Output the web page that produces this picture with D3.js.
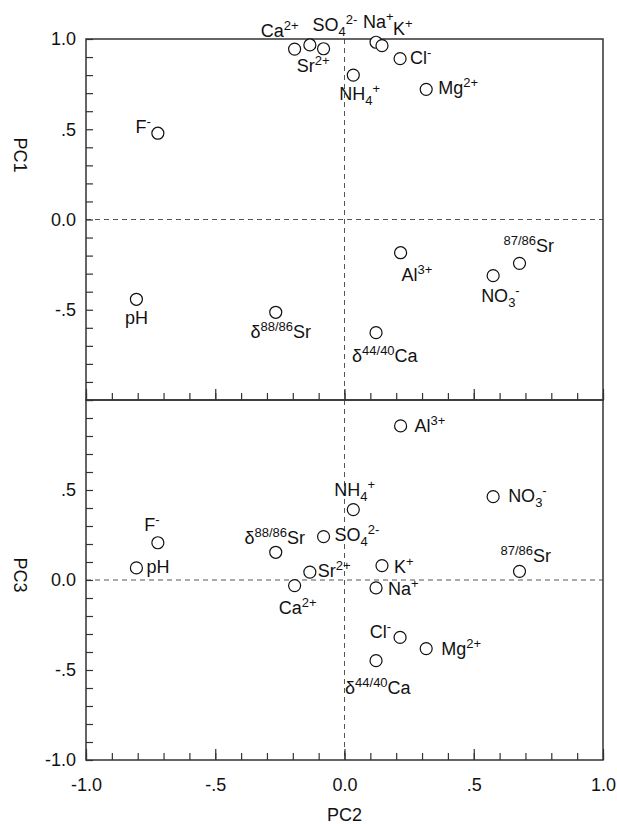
<!DOCTYPE html>
<html>
<head>
<meta charset="utf-8">
<script src="https://cdn.jsdelivr.net/npm/d3@7"></script>
<style>
  body { margin: 0; background: #fff; }
  svg { display: block; font-family: "Liberation Sans", Arial, sans-serif; }
</style>
</head>
<body>
<svg id="chart" width="617" height="824"></svg>
<script>
// variable names (^{..} = superscript, _{..} = subscript)
const names = ["pH", "F^{-}", "Cl^{-}", "NO_{3}^{-}", "SO_{4}^{2-}", "Na^{+}", "K^{+}", "NH_{4}^{+}",
  "Ca^{2+}", "Mg^{2+}", "Al^{3+}", "Sr^{2+}", "^{87/86}Sr", "δ^{88/86}Sr", "δ^{44/40}Ca"];

// loadings
const pc2 = [-0.805, -0.722, 0.215, 0.575, -0.081, 0.122, 0.145, 0.034, -0.193, 0.316, 0.217, -0.134, 0.677, -0.266, 0.122];
const pc1 = [-0.442, 0.478, 0.891, -0.311, 0.946, 0.982, 0.963, 0.80, 0.944, 0.721, -0.184, 0.967, -0.243, -0.514, -0.627];
const pc3 = [0.067, 0.207, -0.319, 0.463, 0.241, -0.044, 0.080, 0.391, -0.031, -0.381, 0.856, 0.044, 0.048, 0.154, -0.448];

// tick labels
const xTickValues = [-1, -0.5, 0, 0.5, 1];
const xTickLabels = ["-1.0", "-.5", "0.0", ".5", "1.0"];
const topTickValues = [1, 0.5, 0, -0.5];
const topTickLabels = ["1.0", ".5", "0.0", "-.5"];
const bottomTickValues = [0.5, 0, -0.5, -1];
const bottomTickLabels = [".5", "0.0", "-.5", "-1.0"];

// label placement [dx, dy, anchor] for each panel
const topPlace = [[0, 25, "middle"], [-7, 0, "end"], [10, 5, "start"], [-12, 26, "start"], [-11, -18, "start"],
  [-13, -14, "start"], [11, -11, "start"], [-14, 25, "start"], [4, -12, "end"], [12, 5, "start"],
  [1, 28, "start"], [-13, 27, "start"], [-16, -11, "start"], [5, 26, "middle"], [-24, 29, "start"]];
const bottomPlace = [[10, 5, "start"], [-6, -12, "middle"], [-9, 1, "end"], [15, 5, "start"], [11, 4, "start"],
  [12, 7, "start"], [12, 7, "start"], [-19, -14, "start"], [3, 28, "middle"], [15, 6, "start"],
  [14, 6, "start"], [8, 5, "start"], [-19, -9, "start"], [-1, -8, "middle"], [-31, 33, "start"]];

const svg = d3.select("#chart");
const left = 86, right = 603;
const fontSize = 18, smallSize = 13;

const x = d3.scaleLinear().domain([-1, 1]).range([left, right]);
const minor = d3.range(-10, 11).map(i => i / 10);

function richText(sel, str) {
  let shift = 0;
  const re = /([\^_])\{([^}]*)\}|([^\^_]+)/g;
  let m;
  while ((m = re.exec(str))) {
    const kind = m[1] === "^" ? "sup" : m[1] === "_" ? "sub" : "normal";
    const target = kind === "sup" ? -7 : kind === "sub" ? 5 : 0;
    sel.append("tspan")
      .attr("dy", target - shift)
      .attr("font-size", kind === "normal" ? fontSize : smallSize)
      .text(m[2] !== undefined ? m[2] : m[3]);
    shift = target;
  }
}

function panel(top, bottom, ys, place, yVals, yLabels, showX) {
  const y = d3.scaleLinear().domain([-1, 1]).range([bottom, top]);
  const g = svg.append("g");

  // zero lines
  g.append("line")
    .attr("x1", left).attr("x2", right).attr("y1", y(0)).attr("y2", y(0))
    .attr("stroke", "#555").attr("stroke-dasharray", "5,4");
  g.append("line")
    .attr("x1", x(0)).attr("x2", x(0)).attr("y1", top).attr("y2", bottom)
    .attr("stroke", "#555").attr("stroke-dasharray", "5,4");

  // y axis: minor ticks inside, labels on the major ones
  g.append("g")
    .attr("transform", "translate(" + left + ",0)")
    .call(d3.axisLeft(y).tickValues(minor).tickSizeInner(-7).tickSizeOuter(0).tickFormat(""));
  g.append("g")
    .attr("transform", "translate(" + left + ",0)")
    .call(d3.axisLeft(y).tickValues(yVals).tickSize(0).tickPadding(10)
      .tickFormat((d, i) => yLabels[i]));

  // x axis: ticks pointing up
  g.append("g")
    .attr("transform", "translate(0," + bottom + ")")
    .call(d3.axisBottom(x).tickValues(minor).tickSizeInner(-7).tickSizeOuter(0).tickFormat(""));
  g.append("g")
    .attr("transform", "translate(0," + bottom + ")")
    .call(d3.axisBottom(x).tickValues(xTickValues).tickSizeInner(-11).tickSizeOuter(0).tickPadding(18)
      .tickFormat((d, i) => showX ? xTickLabels[i] : ""));

  g.selectAll(".domain").remove();
  g.selectAll(".tick line").attr("stroke", "#333").attr("stroke-width", 1.2);
  g.selectAll(".tick text").attr("font-size", fontSize).attr("fill", "#111")
    .attr("font-family", "Liberation Sans, Arial, sans-serif");

  // frame
  g.append("rect")
    .attr("x", left).attr("y", top).attr("width", right - left).attr("height", bottom - top)
    .attr("fill", "none").attr("stroke", "#333").attr("stroke-width", 1.5);

  const pts = names.map((n, i) => ({ name: n, x: pc2[i], y: ys[i], p: place[i] }));

  g.selectAll("circle.pt")
    .data(pts)
    .enter()
    .append("circle")
    .attr("class", "pt")
    .attr("cx", d => x(d.x))
    .attr("cy", d => y(d.y))
    .attr("r", 6)
    .attr("fill", "#fff")
    .attr("stroke", "#111")
    .attr("stroke-width", 1.2);

  g.selectAll("text.lbl")
    .data(pts)
    .enter()
    .append("text")
    .attr("class", "lbl")
    .attr("x", d => x(d.x) + d.p[0])
    .attr("y", d => y(d.y) + d.p[1])
    .attr("text-anchor", d => d.p[2])
    .attr("fill", "#111")
    .each(function (d) { richText(d3.select(this), d.name); });
}

panel(39, 400, pc1, topPlace, topTickValues, topTickLabels, false);
panel(400, 760, pc3, bottomPlace, bottomTickValues, bottomTickLabels, true);

// axis titles
svg.append("text")
  .attr("transform", "translate(14,155) rotate(90)")
  .attr("text-anchor", "middle").attr("font-size", fontSize).attr("fill", "#111")
  .text("PC1");
svg.append("text")
  .attr("transform", "translate(14,575) rotate(90)")
  .attr("text-anchor", "middle").attr("font-size", fontSize).attr("fill", "#111")
  .text("PC3");
svg.append("text")
  .attr("x", x(0)).attr("y", 821)
  .attr("text-anchor", "middle").attr("font-size", fontSize).attr("fill", "#111")
  .text("PC2");
</script>
</body>
</html>
